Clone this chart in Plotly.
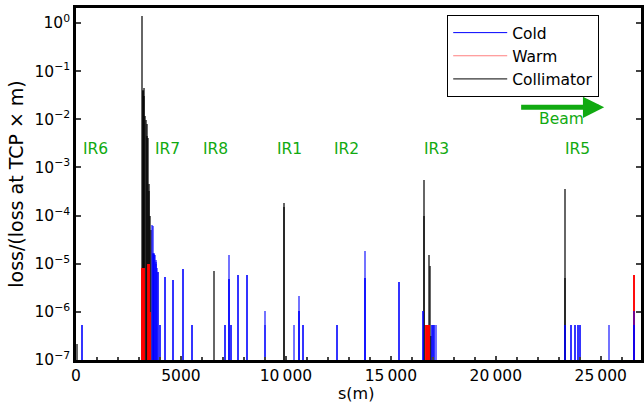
import plotly.graph_objects as go

# ---- data (s in m, normalised loss) ----
coll_s = [70, 3142, 3175, 3200, 3230, 3260, 3300, 3340, 3370, 3400, 3430, 3470, 3500, 3540, 3575,
          6564, 9905, 9905, 16587, 16587, 16810, 16857, 16918, 23302, 23302]
coll_v = [2.1e-7, 1.4, 0.04, 0.038, 0.045, 0.03, 0.012, 0.0096, 0.008, 0.0045, 0.004, 4.6e-4, 3.2e-4, 1.0e-4, 5e-5,
          7.2e-6, 1.8e-4, 1.5e-4, 5.4e-4, 1.0e-4, 1.5e-5, 9e-6, 3.2e-7, 3.5e-4, 5e-6]

warm_s = [3150, 3190, 3230, 3420, 3460, 3520, 16680, 16720, 16760, 16800, 26586]
warm_v = [8e-6, 8e-6, 8e-6, 1e-5, 1e-5, 1e-6, 5.3e-7, 5.3e-7, 5.3e-7, 5.3e-7, 5.9e-6]

cold_s = [284, 284,
          3635, 3660, 3680, 3700, 3730, 3760, 3790, 3820, 3850, 3680, 3730, 3790, 3900, 3900,
          4014, 4014, 4218, 4218, 4644, 4644, 5085, 5085, 5511, 5511,
          7094, 7094, 7298, 7298, 7298, 7407, 7407, 7725, 7725, 8151, 8151, 9019, 9019,
          10378, 10601, 10601, 10601, 10805, 10805, 12416, 12416, 13776, 13776, 13776, 15402, 15402,
          16525, 16525, 16965, 16965, 17010, 17060, 17060, 17150,
          23302, 23302, 23600, 23600, 23775, 23775, 23932, 23932, 23994, 23994, 25401,
          26586, 26586, 26586]
cold_v = [5.3e-7, 5.3e-7,
          6.5e-5, 6e-5, 1.7e-5, 1.7e-5, 1.6e-5, 1.5e-5, 1.2e-5, 1e-5, 8e-6, 1.6e-5, 1.5e-5, 1.1e-5, 6.8e-6, 6.8e-6,
          5.3e-7, 5.3e-7, 5.2e-6, 5.2e-6, 4.6e-6, 4.6e-6, 7.9e-6, 7.9e-6, 5.3e-7, 5.3e-7,
          5.3e-7, 5.3e-7, 1.5e-5, 4.8e-6, 4.8e-6, 5.3e-7, 5.3e-7, 5.9e-6, 5.9e-6, 5.9e-6, 5.9e-6, 1.05e-6, 5.3e-7,
          5.3e-7, 2.1e-6, 1.05e-6, 1.05e-6, 5.3e-7, 5.3e-7, 5.3e-7, 5.3e-7, 1.8e-5, 5e-6, 5e-6, 4.2e-6, 4.2e-6,
          1.05e-6, 1.05e-6, 5.3e-7, 5.3e-7, 5.3e-7, 5.3e-7, 5.3e-7, 5.3e-7,
          5.3e-7, 5.3e-7, 5.3e-7, 5.3e-7, 5.3e-7, 5.3e-7, 5.3e-7, 5.3e-7, 5.3e-7, 5.3e-7, 5.3e-7,
          1.05e-6, 5.3e-7, 5.3e-7]

ir_names = ["IR6", "IR7", "IR8", "IR1", "IR2", "IR3", "IR5"]
ir_pos = [237, 3650, 5960, 9480, 12180, 16490, 23220]

x_tickvals = [0, 5000, 10000, 15000, 20000, 25000]
x_ticktext = ["0", "5000", "10\u2009000", "15\u2009000", "20\u2009000", "25\u2009000"]
y_tickvals = [1e-7, 1e-6, 1e-5, 1e-4, 1e-3, 1e-2, 1e-1, 1]
y_ticktext = ["10<sup>\u22127</sup>", "10<sup>\u22126</sup>", "10<sup>\u22125</sup>", "10<sup>\u22124</sup>",
              "10<sup>\u22123</sup>", "10<sup>\u22122</sup>", "10<sup>\u22121</sup>", "10<sup>0</sup>"]

GREEN = "#11aa11"
BW = 95

fig = go.Figure()
fig.add_trace(go.Bar(x=coll_s, y=coll_v, width=BW, marker=dict(color="rgba(0,0,0,0.6)", line=dict(width=0)),
                     showlegend=False))
fig.add_trace(go.Bar(x=warm_s, y=warm_v, width=BW, marker=dict(color="rgba(255,0,0,0.95)", line=dict(width=0)),
                     showlegend=False))
fig.add_trace(go.Bar(x=cold_s, y=cold_v, width=BW, marker=dict(color="rgba(0,0,255,0.55)", line=dict(width=0)),
                     showlegend=False))
# legend entries
for name, col in [("Cold", "blue"), ("Warm", "#ff7f7f"), ("Collimator", "black")]:
    fig.add_trace(go.Scatter(x=[None], y=[None], mode="lines", name=name, line=dict(color=col, width=1)))

for name, pos in zip(ir_names, ir_pos):
    fig.add_annotation(x=pos, y=-2.625, text=name, showarrow=False, xanchor="left", yanchor="middle",
                       font=dict(color=GREEN, size=15.5))
fig.add_annotation(x=23126, y=-2.0, text="Beam", showarrow=False, xanchor="center", yanchor="middle",
                   font=dict(color=GREEN, size=15.5))
fig.add_annotation(x=25164, y=-1.75, ax=21136, ay=-1.75, axref="x", ayref="y", text="", showarrow=True,
                   arrowhead=2, arrowsize=0.85, arrowwidth=5, arrowcolor=GREEN)
# x-axis title
fig.add_annotation(x=0.495, y=-0.095, xref="paper", yref="paper", text="s(m)", showarrow=False,
                   xanchor="center", yanchor="middle", font=dict(family="DejaVu Sans", size=16))

fig.update_layout(
    width=644, height=411, margin=dict(l=76, r=0, t=8, b=51),
    plot_bgcolor="white", paper_bgcolor="white", barmode="overlay", bargap=0,
    font=dict(family="DejaVu Sans", size=15.5, color="black"),
    legend=dict(x=0.657, y=0.98, xanchor="left", yanchor="top", bordercolor="black", borderwidth=1,
                bgcolor="white", font=dict(size=15.5), tracegroupgap=0, itemwidth=54),
)
fig.update_xaxes(range=[0, 26918], tickvals=x_tickvals, ticktext=x_ticktext, ticks="inside", ticklen=4,
                 tickwidth=2, showline=True, linewidth=2.5, linecolor="black", mirror=True, showgrid=False,
                 zeroline=False, minor=dict(dtick=1000, ticks="inside", ticklen=3, tickwidth=2, showgrid=False))
fig.update_yaxes(type="log", range=[-7, 0.3125], tickvals=y_tickvals, ticktext=y_ticktext, ticks="inside",
                 ticklen=5, tickwidth=2, showline=True, linewidth=2.5, linecolor="black", mirror="ticks",
                 showgrid=False, zeroline=False, title=dict(text="loss/(loss at TCP \u00d7 m)", standoff=6))

fig.write_html("out.html")
